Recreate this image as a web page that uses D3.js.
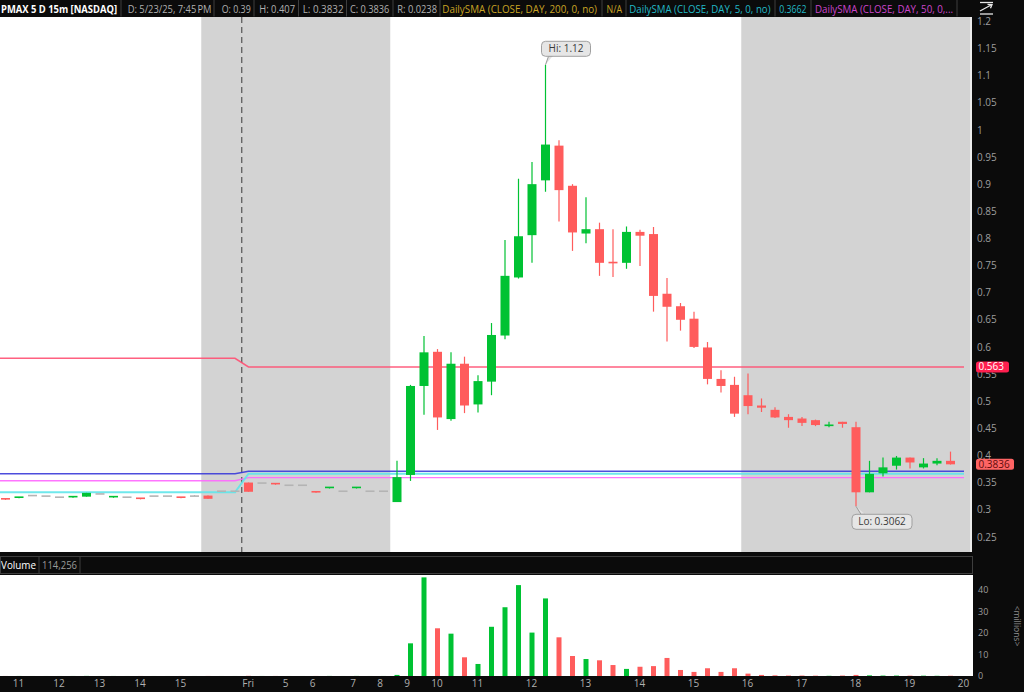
<!DOCTYPE html>
<html><head><meta charset="utf-8">
<script src="https://cdn.jsdelivr.net/npm/d3@7"></script>
<style>
html,body{margin:0;padding:0;background:#0b0b0b;overflow:hidden;}
svg{display:block;font-family:"Open Sans","DejaVu Sans",sans-serif;}
</style></head><body>
<svg id="c" width="1024" height="692"></svg>
<script>
// ---------------- DATA ----------------
const headerTexts = ["PMAX 5 D 15m [NASDAQ]","D: 5/23/25, 7:45\u202FPM","O: 0.39","H: 0.407","L: 0.3832","C: 0.3836","R: 0.0238",
  "DailySMA (CLOSE, DAY, 200, 0, no)","N/A","DailySMA (CLOSE, DAY, 5, 0, no)","0.3662","DailySMA (CLOSE, DAY, 50, 0,..."];
// 15-minute bars, index 0..70 (Thu 11:00 -> Fri 19:45, only bars with trades)
const opens  = [0.320,0.321,0.326,0.325,0.323,0.322,0.324,0.329,0.322,0.323,0.321,0.325,0.325,0.323,0.325,0.326,0.334,0.334,
  0.350,0.349,0.348,0.345,0.345,0.333,0.339,0.334,0.339,0.334,0.334,0.314,
  0.364,0.528,0.591,0.467,0.569,0.494,0.536,0.621,0.728,0.806,0.907,0.971,0.897,0.809,0.817,0.757,0.755,0.812,0.808,0.698,
  0.675,0.652,0.599,0.541,0.530,0.511,0.492,0.484,0.471,0.468,0.465,0.454,0.462,0.452,0.332,0.367,0.381,0.396,0.378,0.385,0.390];
const highs  = [0.320,0.323,0.326,0.325,0.323,0.324,0.331,0.329,0.324,0.323,0.321,0.325,0.325,0.323,0.327,0.326,0.334,0.334,
  0.350,0.349,0.348,0.345,0.345,0.333,0.341,0.334,0.341,0.334,0.334,0.390,
  0.530,0.620,0.596,0.590,0.582,0.548,0.644,0.797,0.910,0.941,1.120,0.981,0.900,0.876,0.829,0.817,0.822,0.816,0.821,0.727,
  0.681,0.665,0.609,0.557,0.545,0.551,0.505,0.489,0.476,0.471,0.466,0.462,0.462,0.462,0.390,0.396,0.399,0.396,0.395,0.395,0.407];
const lows   = [0.318,0.321,0.326,0.325,0.323,0.322,0.324,0.329,0.322,0.323,0.319,0.325,0.325,0.321,0.325,0.320,0.334,0.334,
  0.333,0.349,0.346,0.345,0.345,0.331,0.339,0.334,0.339,0.334,0.334,0.314,
  0.353,0.475,0.447,0.464,0.478,0.479,0.511,0.614,0.726,0.755,0.886,0.831,0.777,0.791,0.731,0.729,0.744,0.749,0.665,0.610,
  0.630,0.598,0.531,0.516,0.471,0.476,0.480,0.469,0.451,0.454,0.454,0.452,0.451,0.3062,0.332,0.361,0.374,0.376,0.376,0.382,0.3832];
const closes = [0.318,0.323,0.326,0.325,0.323,0.324,0.331,0.329,0.324,0.323,0.319,0.325,0.325,0.321,0.325,0.320,0.334,0.334,
  0.333,0.349,0.346,0.345,0.345,0.331,0.341,0.334,0.341,0.334,0.334,0.360,
  0.528,0.590,0.470,0.569,0.492,0.537,0.622,0.731,0.804,0.900,0.973,0.889,0.811,0.817,0.755,0.754,0.812,0.805,0.694,0.674,
  0.650,0.600,0.541,0.528,0.477,0.491,0.488,0.470,0.465,0.460,0.456,0.457,0.458,0.332,0.366,0.378,0.396,0.387,0.385,0.390,0.3836];
// volume in millions
const volumes = [0.02,0.03,0.01,0.01,0.01,0.02,0.05,0.01,0.02,0.01,0.02,0.01,0.01,0.02,0.01,0.03,0.01,0.01,
  0.08,0.02,0.03,0.01,0.01,0.03,0.04,0.01,0.04,0.01,0.02,0.5,
  15.2,45.9,22.2,19.7,8.7,5.6,22.9,32.0,42.3,20.2,36.1,18.0,9.3,7.9,7.3,5.1,3.3,4.3,4.6,8.4,
  2.8,1.9,3.6,1.9,3.6,1.1,0.5,0.3,0.2,0.2,0.15,0.1,0.2,0.5,0.3,0.2,0.2,0.15,0.15,0.1,0.114256];
// time axis labels and the first bar of each labelled hour
const timeLabels = ["11","12","13","14","15","Fri","5","6","7","8","9","10","11","12","13","14","15","16","17","18","19","20"];
const timeLabelBars = [1,4,7,10,13,18,21,23,26,28,30,32,35,39,43,47,51,55,59,63,67,71];
// extended-hours sessions (bar ranges)
const extSessions = [[14.5,28.5],[54.5,72.5]];
const dayBreakBar = 17.5;
// study lines: [Thursday value, Friday value]
const dayBarRanges = [[-2,17],[18,71]];
const redStudy = [0.579,0.563];
const blueStudy = [0.3663,0.3707];
const sma5 = [0.332,0.3662];
const sma50 = [0.3533,0.359];
const priceTicks = [1.2,1.15,1.1,1.05,1,0.95,0.9,0.85,0.8,0.75,0.7,0.65,0.6,0.55,0.5,0.45,0.4,0.35,0.3,0.25];
const volumeTicks = [0,10,20,30,40];
const hiValue = 1.12, hiBar = 40, loValue = 0.3062, loBar = 63;
const lastVolumeText = "114,256";

// ---------------- LAYOUT ----------------
const svg = d3.select("#c");
const P = {left:0, right:970, top:17, bottom:552};
const V = {top:575, bottom:676, right:973};
const x = d3.scaleLinear().domain([0,70]).range([5.5,950.5]);
const y = d3.scaleLinear().domain([0.25,1.2]).range([536.8,21.4]);
const vy = d3.scaleLinear().domain([0,47]).range([V.bottom,V.top]);
const GREEN = "#00c233", RED = "#ff5c5c", GRAY = "#b4b4b4";

svg.append("rect").attr("width",1024).attr("height",692).attr("fill","#0b0b0b");

// header
const headerSpans = [[1,117],[127.7,211.5],[221.7,250.7],[259.3,295],[302.7,343.5],[350,389.3],[397.3,437],[442.3,597],[606.5,622],[629.3,770.5],[779.3,806.5],[815,953]];
const headerColors = ["#ffffff","#b0b0b0","#b0b0b0","#b0b0b0","#b0b0b0","#b0b0b0","#b0b0b0","#c9a424","#c9a424","#22b9c6","#22b9c6","#cc45cc"];
const headerSeps = [121,214,254,298.5,346.5,393,440,602,626,775,811,957];
const hg = svg.append("g");
hg.selectAll("line.sep").data(headerSeps).join("line")
  .attr("x1",d=>d).attr("x2",d=>d).attr("y1",0).attr("y2",16.5)
  .attr("stroke","#3e3e3e").attr("stroke-width",1);
hg.selectAll("text").data(headerTexts).join("text")
  .attr("x",(d,i)=>headerSpans[i][0]).attr("y",12.6)
  .attr("font-size",11).attr("font-weight",(d,i)=>i===0?700:400)
  .attr("fill",(d,i)=>headerColors[i])
  .attr("textLength",(d,i)=>headerSpans[i][1]-headerSpans[i][0])
  .attr("lengthAdjust","spacingAndGlyphs")
  .text(d=>d);
// icon
const ic = svg.append("g").attr("stroke","#e8e8e8").attr("stroke-width",1.3).attr("fill","none");
ic.append("line").attr("x1",980).attr("x2",993).attr("y1",2.5).attr("y2",2.5);
ic.append("path").attr("d","M980,11 L992,4.5 M987.5,4.3 L992,4.5 L990.5,8.3");
ic.append("line").attr("x1",980).attr("x2",993).attr("y1",14).attr("y2",14);

// price panel
svg.append("defs").append("clipPath").attr("id","pclip")
  .append("rect").attr("x",P.left).attr("y",P.top).attr("width",P.right-P.left).attr("height",P.bottom-P.top);
svg.append("rect").attr("x",P.left).attr("y",P.top).attr("width",P.right-P.left).attr("height",P.bottom-P.top).attr("fill","#ffffff");
const pg = svg.append("g").attr("clip-path","url(#pclip)");
pg.selectAll("rect.ext").data(extSessions).join("rect")
  .attr("x",d=>x(d[0])).attr("width",d=>Math.min(x(d[1]),P.right)-x(d[0]))
  .attr("y",P.top).attr("height",P.bottom-P.top).attr("fill","#d3d3d3");
pg.append("line").attr("x1",x(dayBreakBar)).attr("x2",x(dayBreakBar)).attr("y1",P.top).attr("y2",P.bottom)
  .attr("stroke","#555").attr("stroke-width",1.2).attr("stroke-dasharray","6,4");
svg.append("line").attr("x1",971).attr("x2",971).attr("y1",P.top).attr("y2",P.bottom).attr("stroke","#ececec").attr("stroke-width",2);

// study lines
function stepPoints(vals){
  const pts=[];
  dayBarRanges.forEach((r,i)=>{pts.push([r[0],vals[i]]);pts.push([r[1],vals[i]]);});
  return pts;
}
const line = d3.line().x(d=>x(d[0])).y(d=>y(d[1]));
const studies = [
  {vals:redStudy, color:"#ff4f72", w:1.5},
  {vals:sma50, color:"#ff66ff", w:1.4},
  {vals:sma5, color:"#5fe6ea", w:2},
  {vals:blueStudy, color:"#3a3ad8", w:1.4}
];
pg.selectAll("path.study").data(studies).join("path")
  .attr("d",d=>line(stepPoints(d.vals))).attr("fill","none")
  .attr("stroke",d=>d.color).attr("stroke-width",d=>d.w).attr("stroke-opacity",0.9);

// candles
const idx = d3.range(opens.length);
const col = i => closes[i]>opens[i]?GREEN:(closes[i]<opens[i]?RED:GRAY);
const cg = pg.append("g");
cg.selectAll("line.wick").data(idx.filter(i=>highs[i]>lows[i])).join("line")
  .attr("x1",i=>x(i)).attr("x2",i=>x(i)).attr("y1",i=>y(highs[i])).attr("y2",i=>y(lows[i]))
  .attr("stroke",col).attr("stroke-width",1.2);
cg.selectAll("rect.body").data(idx).join("rect")
  .attr("x",i=>x(i)-4.5).attr("width",9)
  .attr("y",i=>Math.min(y(opens[i]),y(closes[i])) - (Math.abs(y(opens[i])-y(closes[i]))<1.6?0.8:0))
  .attr("height",i=>Math.max(1.6,Math.abs(y(opens[i])-y(closes[i]))))
  .attr("fill",col);

// Hi / Lo bubbles
function bubble(bx, by, txt, above){
  const g = svg.append("g");
  const w = txt.length*5.5+5, h=15;
  const left = bx-4, top = above ? by-23.5 : by+8;
  const tail = above
    ? `M${bx},${by} L${bx+3},${top+h} L${bx+7},${top+h}`
    : `M${bx},${by} L${bx+5},${top} L${bx+9},${top}`;
  g.append("path").attr("d",tail).attr("fill","#e4e4e4").attr("stroke","#9a9a9a").attr("stroke-width",1);
  g.append("rect").attr("x",left).attr("y",top).attr("width",w).attr("height",h).attr("rx",4)
    .attr("fill","#e6e6e6").attr("stroke","#a0a0a0").attr("stroke-width",1);
  g.append("text").attr("x",left+w/2).attr("y",top+h/2).attr("dy","0.35em").attr("text-anchor","middle")
    .attr("font-size",10).attr("fill","#3a3a3a").text(txt);
}
bubble(x(hiBar), y(hiValue), "Hi: "+hiValue, true);
bubble(x(loBar), y(loValue), "Lo: "+loValue, false);

// price axis
const ya = svg.append("g").attr("transform",`translate(972,0)`)
  .call(d3.axisRight(y).tickValues(priceTicks).tickSize(0).tickPadding(5).tickFormat(d=>String(+d.toFixed(2))));
ya.select(".domain").remove();
ya.selectAll("text").attr("fill","#9e9e9e").attr("font-size",10).attr("font-family","Open Sans, DejaVu Sans, sans-serif");

// last-value labels
function valueTag(v, txt, fill, tc, w){
  const g = svg.append("g");
  g.append("rect").attr("x",976).attr("y",y(v)-5.5).attr("width",w).attr("height",11).attr("rx",2.5).attr("fill",fill);
  g.append("text").attr("x",978.5).attr("y",y(v)).attr("dy","0.35em").attr("font-size",10).attr("fill",tc).text(txt);
}
valueTag(redStudy[1], String(redStudy[1]), "#ff1f4f", "#ffffff", 33);
valueTag(closes[closes.length-1], String(closes[closes.length-1]), "#ff6464", "#5e0c0c", 38);

// volume header
svg.append("rect").attr("x",0.5).attr("y",556.5).attr("width",972).attr("height",17).attr("fill","#0b0b0b").attr("stroke","#3e3e3e");
svg.append("line").attr("x1",39).attr("x2",39).attr("y1",557).attr("y2",573).attr("stroke","#3e3e3e");
svg.append("line").attr("x1",80).attr("x2",80).attr("y1",557).attr("y2",573).attr("stroke","#3e3e3e");
svg.append("text").attr("x",1).attr("y",569).attr("font-size",11).attr("fill","#ffffff").attr("textLength",35).attr("lengthAdjust","spacingAndGlyphs").text("Volume");
svg.append("text").attr("x",42).attr("y",569).attr("font-size",11).attr("fill","#9a9a9a").attr("textLength",35).attr("lengthAdjust","spacingAndGlyphs").text(lastVolumeText);

// volume panel
svg.append("rect").attr("x",0).attr("y",V.top).attr("width",V.right).attr("height",V.bottom-V.top).attr("fill","#ffffff");
svg.append("g").selectAll("rect").data(idx).join("rect")
  .attr("x",i=>x(i)-2.5).attr("width",5)
  .attr("y",i=>vy(volumes[i])).attr("height",i=>vy(0)-vy(volumes[i]))
  .attr("fill",i=>closes[i]>=opens[i]?GREEN:RED);
const va = svg.append("g").attr("transform",`translate(972,0)`)
  .call(d3.axisRight(vy).tickValues(volumeTicks).tickSize(0).tickPadding(6));
va.select(".domain").remove();
va.selectAll("text").attr("fill","#9e9e9e").attr("font-size",9).attr("font-family","Open Sans, DejaVu Sans, sans-serif");
svg.append("text").attr("transform","translate(1017,626) rotate(90)").attr("text-anchor","middle").attr("dy","0.32em")
  .attr("font-size",8.5).attr("fill","#8a8a8a").text("<millions>");

// time axis
const xa = svg.append("g").attr("transform",`translate(0,677)`)
  .call(d3.axisBottom(x).tickValues(timeLabelBars.map(b=>b-0.5)).tickSize(0).tickPadding(3)
    .tickFormat((d,i)=>timeLabels[i]));
xa.select(".domain").remove();
xa.selectAll("text").attr("text-anchor","start").attr("fill","#b0b0b0").attr("font-size",10)
  .attr("font-family","Open Sans, DejaVu Sans, sans-serif");
</script>
</body></html>
